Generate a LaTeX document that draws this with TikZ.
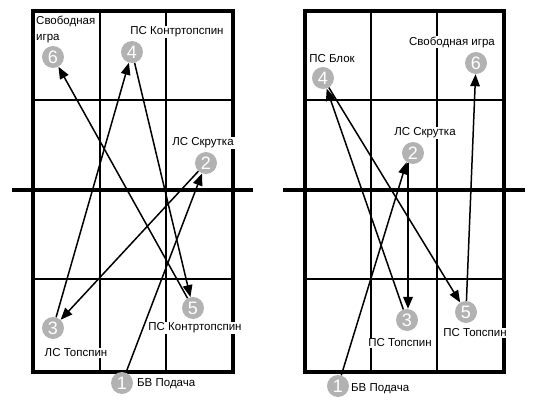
\documentclass[tikz,border=0pt]{standalone}
\usepackage{fontspec}
\setmainfont{Liberation Sans}
\usetikzlibrary{arrows.meta}
\tikzset{
  border/.style={line width=4pt},
  netline/.style={line width=4.5pt},
  gridline/.style={line width=1.1pt},
  num/.style={circle,fill=black!30,text=white,minimum size=22pt,inner sep=0pt,font=\fontsize{18}{18}\selectfont},
  lab/.style={fill=white,inner sep=1pt,font=\fontsize{11.5}{16}\selectfont},
  arr/.style={line width=1.5pt,-{Triangle[length=12pt,width=9.5pt]}}
}
\begin{document}
\begin{tikzpicture}[x=1pt,y=-1pt]
\useasboundingbox (0,0) rectangle (533,404);
% left court
\draw[gridline] (100,11) -- (100,372) (166,11) -- (166,372) (33,100) -- (233,100) (33,279) -- (233,279);
\draw[border] (33,11) rectangle (233,372);
\draw[netline] (12,190) -- (253,190);
% right court
\draw[gridline] (371,11) -- (371,372) (437,11) -- (437,372) (305,100) -- (504,100) (305,279) -- (504,279);
\draw[border] (305,11) rectangle (504,372);
\draw[netline] (283,190) -- (525,190);
% left labels
\node[lab,align=left,anchor=west] (l6) at (35,29) {Свободная\\игра};
\node[lab] (l4) at (177,32) {ПС Контртопспин};
\node[lab] (l2) at (203,143) {ЛС Скрутка};
\node[lab] (l5) at (195,328) {ПС Контртопспин};
\node[lab] (l3) at (76,353) {ЛС Топспин};
\node[lab,anchor=west] (l1) at (136,384) {БВ Подача};
% right labels
\node[lab] (r6) at (452,42) {Свободная игра};
\node[lab] (r4) at (332,59) {ПС Блок};
\node[lab] (r2) at (425,133) {ЛС Скрутка};
\node[lab] (r3) at (400,343) {ПС Топспин};
\node[lab] (r5) at (475,333) {ПС Топспин};
\node[lab,anchor=west] (r1) at (350,389) {БВ Подача};
% left circles
\node[num] (c1) at (122,383) {1};
\node[num] (c2) at (206,163) {2};
\node[num] (c3) at (53,328) {3};
\node[num] (c4) at (132,52) {4};
\node[num] (c5) at (193,308) {5};
\node[num] (c6) at (53,57) {6};
% right circles
\node[num] (d1) at (338,386) {1};
\node[num] (d2) at (413,153) {2};
\node[num] (d3) at (407,320) {3};
\node[num] (d4) at (323,78) {4};
\node[num] (d5) at (466,312) {5};
\node[num] (d6) at (476,63) {6};
\coordinate (d2s) at (408,163);
% left arrows
\draw[arr] (c1) -- (c2);
\draw[arr] (c2) -- (c3);
\draw[arr] (c3) -- (c4);
\draw[arr] (c4) -- (c5);
\draw[arr] (c5) -- (c6);
% right arrows
\draw[arr] (d1) -- (d2.235);
\draw[arr,line width=2pt] (d2s) -- (d2s |- d3.north);
\draw[arr] (d3) -- (d4);
\draw[arr] (d4) -- (d5);
\draw[arr] (d5) -- (d6);
\end{tikzpicture}
\end{document}
